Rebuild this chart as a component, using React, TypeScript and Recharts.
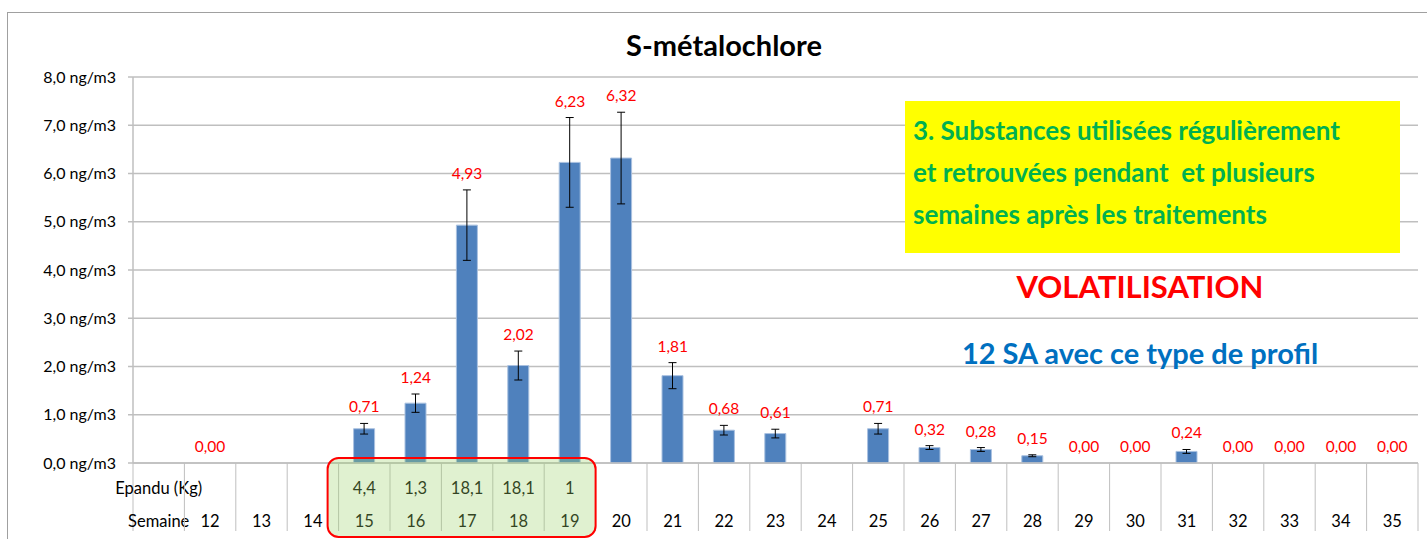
import React from 'react';
import { ComposedChart, Bar, Line, XAxis, YAxis, CartesianGrid, ErrorBar, LabelList } from 'recharts';

const weeks = ['12','13','14','15','16','17','18','19','20','21','22','23','24','25','26','27','28','29','30','31','32','33','34','35'];
const concentrations = [0, null, null, 0.71, 1.24, 4.93, 2.02, 6.23, 6.32, 1.81, 0.68, 0.61, null, 0.71, 0.32, 0.28, 0.15, 0, 0, 0.24, 0, 0, 0, 0];
const errors = [0, null, null, 0.11, 0.19, 0.73, 0.30, 0.93, 0.95, 0.27, 0.10, 0.09, null, 0.11, 0.04, 0.04, 0.02, 0, 0, 0.04, 0, 0, 0, 0];
const epandu = [null, null, null, 4.4, 1.3, 18.1, 18.1, 1, null, null, null, null, null, null, null, null, null, null, null, null, null, null, null, null];
const yTicks = [0, 1, 2, 3, 4, 5, 6, 7, 8];
const headerEpandu = 'Epandu (Kg)';
const headerWeek = 'Semaine';
const title = 'S-métalochlore';
const boxLines = ['3. Substances utilisées régulièrement', 'et retrouvées pendant\u00a0 et plusieurs', 'semaines après les traitements'];
const volat = 'VOLATILISATION';
const profil = '12 SA avec ce type de profil';

const data = [
  { week: '', value: null as number | null, err: null as number | null, top: null as number | null, kg: null as number | null, header: true },
  ...weeks.map((w, i) => ({
    week: w,
    value: concentrations[i],
    err: errors[i],
    top: concentrations[i] == null ? null : (concentrations[i] as number) + ((errors[i] as number) || 0),
    kg: epandu[i],
    header: false,
  })),
];

const FONT = 'Lato, "Open Sans", sans-serif';
const GRID = '#BFBFBF';
const fmtNum = (v: number, d: number) => v.toFixed(d).replace('.', ',');
const fmtKg = (v: number) => String(v).replace('.', ',');

const highlighted = data.map((d, i) => (d.kg != null ? i : -1)).filter((i) => i >= 0);

const CategoryTick = (props: any) => {
  const { x, y, index } = props;
  const n = data.length;
  const axisW = typeof props.width === 'number' && props.width > 100 ? props.width : 1285;
  const bw = axisW / n;
  const row = data[index];
  const left = x - bw / 2;
  const els: any[] = [];
  const fs = 16.5;
  els.push(<line key="d" x1={left} y1={y} x2={left} y2={y + 68} stroke={GRID} strokeWidth={1} />);
  if (index === n - 1) {
    els.push(<line key="dr" x1={left + bw} y1={y} x2={left + bw} y2={y + 68} stroke={GRID} strokeWidth={1} />);
  }
  if (row.header) {
    els.push(<text key="h1" x={x} y={y + 31} textAnchor="middle" fontSize={fs} fill="#000" fontFamily={FONT}>{headerEpandu}</text>);
    els.push(<text key="h2" x={x} y={y + 64} textAnchor="middle" fontSize={fs} fill="#000" fontFamily={FONT}>{headerWeek}</text>);
  } else {
    if (row.kg != null) {
      els.push(<text key="k" x={x} y={y + 31} textAnchor="middle" fontSize={fs} fill="#000" fontFamily={FONT}>{fmtKg(row.kg)}</text>);
    }
    els.push(<text key="w" x={x} y={y + 64} textAnchor="middle" fontSize={fs} fill="#000" fontFamily={FONT}>{row.week}</text>);
  }
  if (index === n - 1 && highlighted.length) {
    const first = highlighted[0];
    const last = highlighted[highlighted.length - 1];
    const bx = left - (index - first) * bw - 11;
    const bxr = left - (index - last - 1) * bw;
    els.push(
      <rect key="hl" x={bx} y={y - 5} width={bxr - bx} height={79} rx={11} ry={11}
        fill="rgba(160,210,110,0.32)" stroke="#FF0000" strokeWidth={2} />
    );
  }
  return <g>{els}</g>;
};

const ValueLabel = (props: any) => {
  const vb = props.viewBox || {};
  const value = props.value;
  if (value === null || value === undefined) return null;
  const x = props.x ?? vb.x;
  const y = props.y ?? vb.y;
  if (x == null || y == null) return null;
  return (
    <text x={x} y={y - 11} textAnchor="middle" fontSize={15.5} fill="#FF0000" fontFamily={FONT}>
      {fmtNum(value, 2)}
    </text>
  );
};

export default function App() {
  return (
    <div style={{ position: 'absolute', left: 0, top: 0, width: 1427, height: 539, overflow: 'hidden', background: '#fff', fontFamily: FONT }}>
      <div style={{ position: 'absolute', left: 7, top: 12, width: 1440, height: 600, border: '1px solid #A0A0A0', boxSizing: 'border-box' }} />
      <ComposedChart width={1427} height={539} data={data} margin={{ top: 77, right: 9, bottom: 0, left: 0 }} style={{ position: 'absolute', left: 0, top: 0 }}>
        <CartesianGrid horizontal vertical={false} stroke={GRID} strokeWidth={1.5} />
        <YAxis
          domain={[0, 8]}
          ticks={yTicks}
          width={133}
          tickSize={5}
          tickMargin={12}
          axisLine={{ stroke: GRID, strokeWidth: 1.5 }}
          tickLine={{ stroke: GRID, strokeWidth: 1.5 }}
          tick={{ fontSize: 16, fill: '#000', fontFamily: FONT }}
          tickFormatter={(v: number) => `${fmtNum(v, 1)} ng/m3`}
          interval={0}
        />
        <XAxis
          dataKey="week"
          height={76}
          tickSize={0}
          tickMargin={0}
          tickLine={false}
          axisLine={{ stroke: GRID, strokeWidth: 1.5 }}
          interval={0}
          tick={<CategoryTick />}
        />
        <Bar dataKey="value" fill="#4F81BD" stroke="#A9C1E0" strokeWidth={1} barSize={21} isAnimationActive={false}>
          <ErrorBar dataKey="err" width={4} stroke="#000" strokeWidth={1} direction="y" />
        </Bar>
        <Line dataKey="top" stroke="none" dot={false} activeDot={false} isAnimationActive={false} connectNulls={false} legendType="none">
          <LabelList dataKey="value" content={<ValueLabel />} />
        </Line>
      </ComposedChart>
      <div style={{ position: 'absolute', left: 574, top: 26, width: 300, textAlign: 'center', fontSize: 29, fontWeight: 700, color: '#000', lineHeight: '38px' }}>{title}</div>
      <div style={{ position: 'absolute', left: 905, top: 101, width: 495, height: 152, background: '#FFFF00', boxSizing: 'border-box', paddingLeft: 8, paddingTop: 8 }}>
        {boxLines.map((l, i) => (
          <div key={i} style={{ fontSize: 26, fontWeight: 700, color: '#00B050', lineHeight: '42px', whiteSpace: 'pre' }}>{l}</div>
        ))}
      </div>
      <div style={{ position: 'absolute', left: 940, top: 266, width: 400, textAlign: 'center', fontSize: 31, fontWeight: 700, color: '#FF0000', lineHeight: '40px' }}>{volat}</div>
      <div style={{ position: 'absolute', left: 940, top: 334, width: 400, textAlign: 'center', fontSize: 29, fontWeight: 700, color: '#0070C0', lineHeight: '38px' }}>{profil}</div>
    </div>
  );
}
